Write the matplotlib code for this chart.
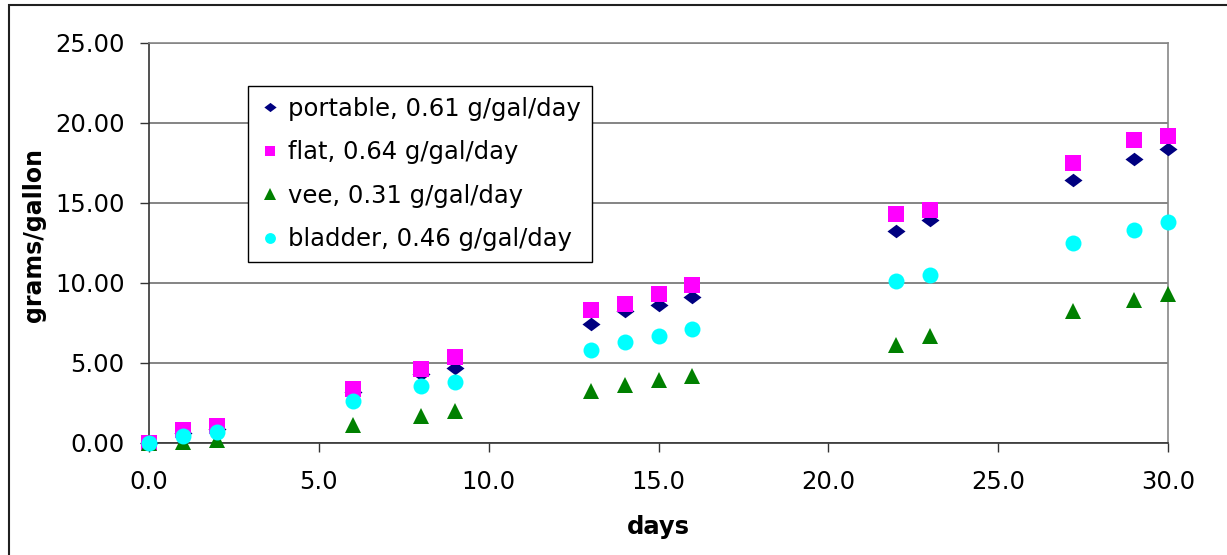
import matplotlib
matplotlib.use("Agg")
import matplotlib.pyplot as plt
from matplotlib.patches import Rectangle
from matplotlib.ticker import FormatStrFormatter, MultipleLocator

days = [0, 1, 2, 6, 8, 9, 13, 14, 15, 16, 22, 23, 27.2, 29, 30]
portable = [0.0, 0.65, 0.9, 3.2, 4.3, 4.7, 7.45, 8.25, 8.6, 9.12, 13.27, 13.96, 16.41, 17.75, 18.39]
flat = [0.0, 0.83, 1.04, 3.39, 4.62, 5.37, 8.29, 8.69, 9.33, 9.85, 14.33, 14.58, 17.5, 18.91, 19.16]
vee = [0.0, 0.05, 0.2, 1.14, 1.71, 1.98, 3.23, 3.64, 3.91, 4.16, 6.14, 6.66, 8.27, 8.91, 9.31]
bladder = [0.0, 0.42, 0.69, 2.64, 3.58, 3.81, 5.79, 6.33, 6.71, 7.12, 10.14, 10.52, 12.5, 13.29, 13.81]

labels = ["portable, 0.61 g/gal/day", "flat, 0.64 g/gal/day",
          "vee, 0.31 g/gal/day", "bladder, 0.46 g/gal/day"]

plt.rcParams['font.family'] = ['DejaVu Sans']
FS = 17.5

W, H = 1227, 555
fig = plt.figure(figsize=(W / 100, H / 100), dpi=100)
ax = fig.add_axes([149 / W, 1 - 443 / H, (1168 - 149) / W, (443 - 43) / H])

diamond = [(-1, 0), (0, 0.75), (1, 0), (0, -0.75), (-1, 0)]
styles = [
    dict(marker=diamond, color='#000080', ms=13),
    dict(marker='s', color='#FF00FF', ms=11.5),
    dict(marker='^', color='#008000', ms=12),
    dict(marker='o', color='#00FFFF', ms=11.5),
]
handles = []
for ys, st, lab in zip([portable, flat, vee, bladder], styles, labels):
    h, = ax.plot(days, ys, linestyle='none', marker=st['marker'], color=st['color'],
                 markersize=st['ms'], markeredgewidth=0, clip_on=False, label=lab, zorder=3)
    handles.append(h)

ax.set_xlim(0, 30)
ax.set_ylim(0, 25)
ax.xaxis.set_major_locator(MultipleLocator(5))
ax.yaxis.set_major_locator(MultipleLocator(5))
ax.xaxis.set_major_formatter(FormatStrFormatter('%.1f'))
ax.yaxis.set_major_formatter(FormatStrFormatter('%.2f'))
ax.tick_params(axis='both', direction='out', length=6.5, width=1, color='#333333',
               labelsize=FS, labelcolor='black')
ax.tick_params(axis='x', pad=13)
ax.tick_params(axis='y', pad=11)

ax.grid(axis='y', color='#707070', linewidth=1.2, zorder=1)
ax.set_axisbelow(True)
ax.spines['left'].set_color('#333333')
ax.spines['bottom'].set_color('#333333')
ax.spines['top'].set_color('#888888')
ax.spines['right'].set_color('#888888')
for s in ax.spines.values():
    s.set_linewidth(1.2)

fig.text(658.5 / W, 1 - 527 / H, 'days', ha='center', va='center',
         fontsize=FS, fontweight='bold')
fig.text(34.5 / W, 1 - 235 / H, 'grams/gallon', ha='center', va='center',
         rotation=90, fontsize=FS - 0.5, fontweight='bold')

leg = ax.legend(handles=handles, loc='upper left', bbox_to_anchor=(248 / W, 1 - 86 / H),
                bbox_transform=fig.transFigure, borderaxespad=0, fontsize=FS,
                markerscale=0.68, handlelength=0.9, handletextpad=0.3,
                labelspacing=0.8, borderpad=0.45, fancybox=False, framealpha=1,
                edgecolor='black')
leg.get_frame().set_linewidth(1.0)

fig.add_artist(Rectangle((8.5 / W, -0.05), 1.2, 1.05 - 5.5 / H, transform=fig.transFigure,
                         fill=False, edgecolor='#202020', linewidth=1.5))

fig.savefig('out.png', dpi=100)
